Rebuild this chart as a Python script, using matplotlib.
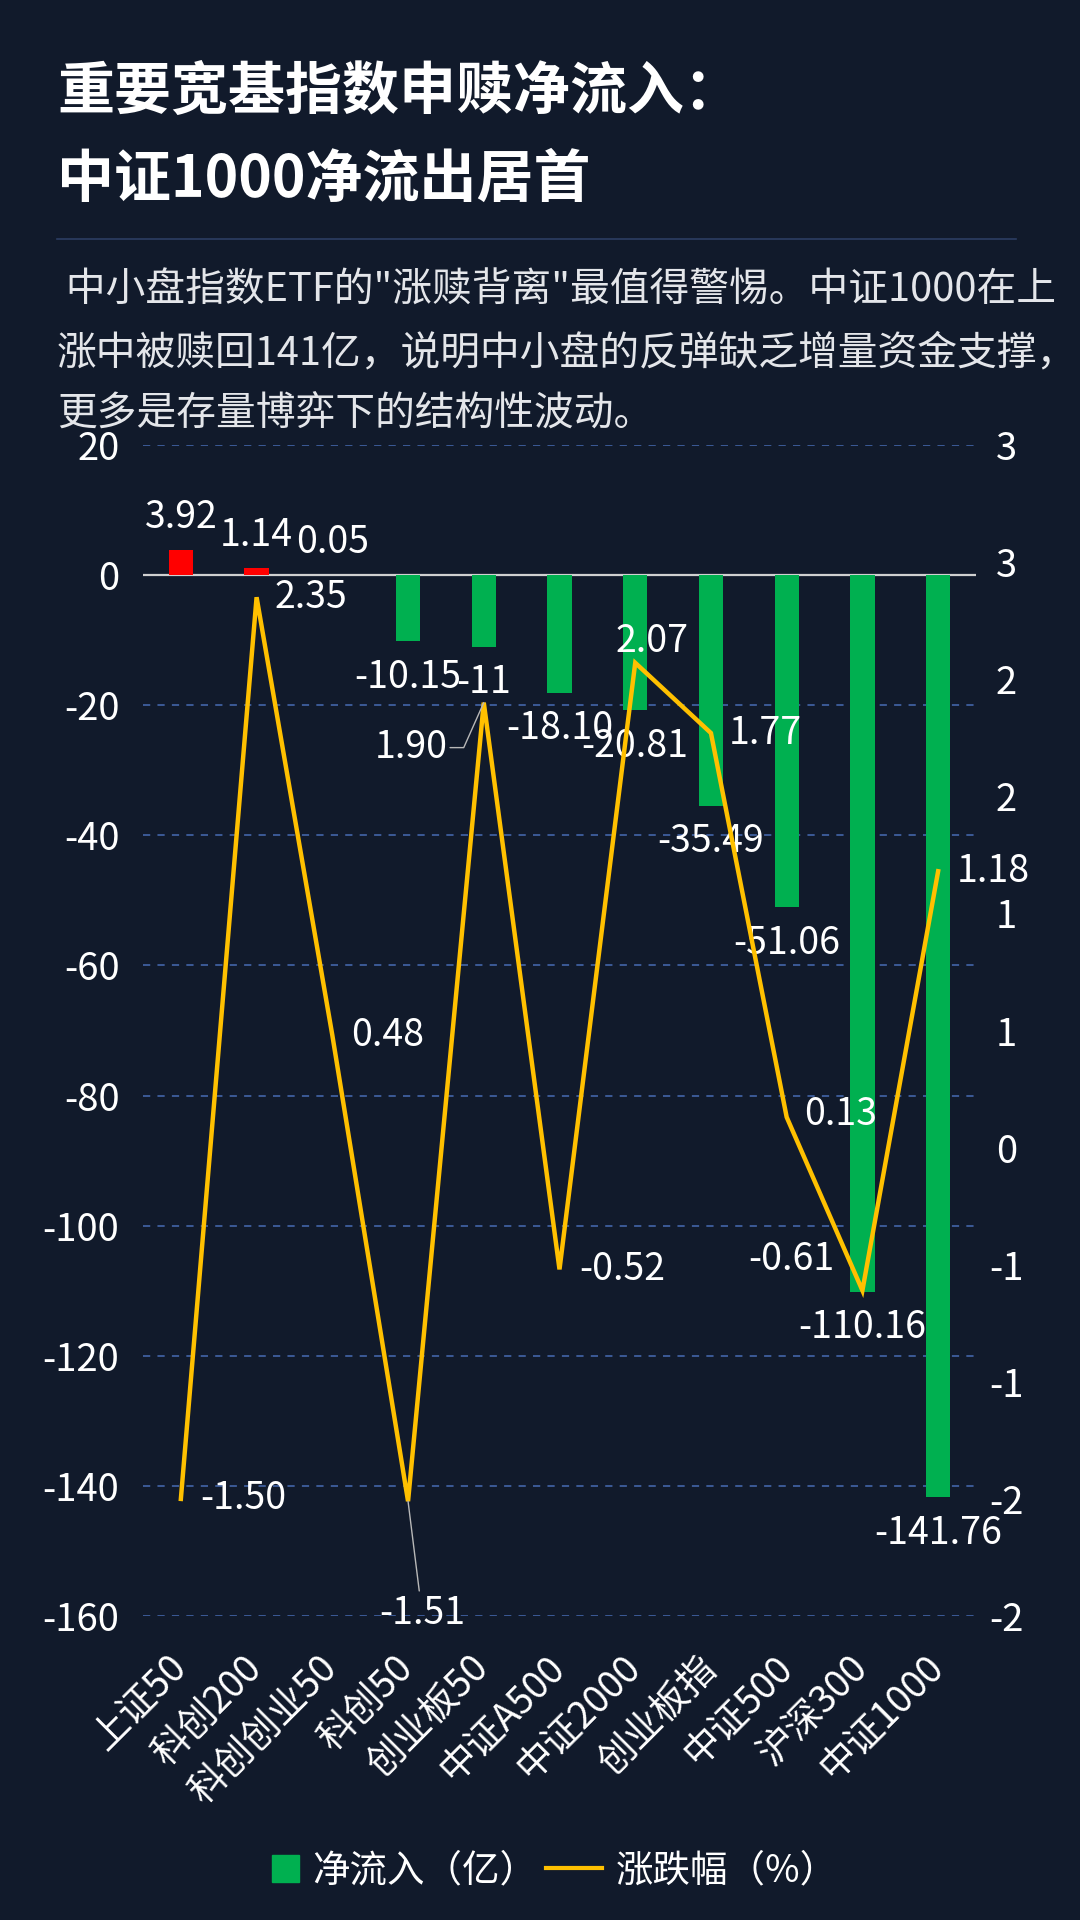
import numpy as np
import matplotlib
matplotlib.use("Agg")
import matplotlib.pyplot as plt
import matplotlib.patches as mpatches
from matplotlib.lines import Line2D
from matplotlib.legend_handler import HandlerPatch
from matplotlib.ticker import FuncFormatter
from matplotlib.transforms import ScaledTranslation

plt.rcParams['font.family'] = ['Noto Sans CJK SC', 'DejaVu Sans']
plt.rcParams['axes.unicode_minus'] = False

# ============================
# Data
# ============================
categories = ["上证50", "科创200", "科创创业50", "科创50", "创业板50", "中证A500",
              "中证2000", "创业板指", "中证500", "沪深300", "中证1000"]
net_flow = [3.92, 1.14, 0.05, -10.15, -11, -18.10, -20.81, -35.49, -51.06, -110.16, -141.76]
pct_change = [-1.50, 2.35, 0.48, -1.51, 1.90, -0.52, 2.07, 1.77, 0.13, -0.61, 1.18]

left_ticks = list(range(-160, 21, 20))
right_ticks = list(np.arange(-2, 3.01, 0.5))

title_lines = ["重要宽基指数申赎净流入：", "中证1000净流出居首"]
sub_lines = [' 中小盘指数ETF的"涨赎背离"最值得警惕。中证1000在上',
             "涨中被赎回141亿，说明中小盘的反弹缺乏增量资金支撑，",
             "更多是存量博弈下的结构性波动。"]
legend_labels = ["净流入（亿）", "涨跌幅（%）"]

# label placement for the % line (pixels, x right / y down)
pct_label_offsets = [(62, 0), (54, 0), (55, 0), (14, 112), (-73, 45), (63, 0),
                     (17, -21), (54, 0), (54, -3), (-71, -31), (55, 0)]

# ============================
# Style
# ============================
BG = "#111a2b"
RED = "#ff0000"
GREEN = "#00b050"
GOLD = "#ffc000"
GRID = "#3f5f9f"
W, H = 1080, 1920


def fmt_flow(v):
    return f"{int(v)}" if float(v).is_integer() else f"{v:.2f}"


def fmt_right(v, pos=None):
    return f"{int(np.sign(v) * np.floor(abs(v) + 0.5))}"


fig = plt.figure(figsize=(W / 100, H / 100), dpi=100, facecolor=BG)

# ---- header ----
for i, t in enumerate(title_lines):
    fig.text(57 / W, 1 - (92 + 88 * i) / H, t, color="white", fontsize=41,
             fontweight="bold", ha="left", va="center")
fig.add_artist(Line2D([57 / W, 1016 / W], [1 - 239 / H, 1 - 239 / H],
                      color="#2c3d63", lw=1.2))
for i, t in enumerate(sub_lines):
    fig.text(57 / W, 1 - (291 + 62 * i) / H, t, color="#e4e6ea", fontsize=28.6,
             ha="left", va="center")

# ---- chart ----
ax = fig.add_axes([143 / W, 1 - 1616 / H, (976 - 143) / W, (1616 - 445) / H])
ax.set_facecolor("none")
x = np.arange(len(categories))

colors = [RED if v > 0 else GREEN for v in net_flow]
ax.bar(x, net_flow, width=0.32, color=colors, zorder=2)
ax.set_xlim(-0.5, len(categories) - 0.5)
ax.set_ylim(-160, 20)
ax.set_yticks(left_ticks)
for t in left_ticks:
    if t == 0:
        ax.axhline(0, color="#d0d0d0", lw=1.6, zorder=1)
    else:
        ax.axhline(t, color=GRID, lw=1.3, ls=(0, (4, 4)), zorder=1)

for i, v in enumerate(net_flow):
    off = 32 if v > 0 else -36
    ax.annotate(fmt_flow(v), (i, v), xytext=(0, off), textcoords="offset pixels",
                ha="center", va="center", color="white", fontsize=27, zorder=5)

ax.set_xticks(x)
ax.set_xticklabels(categories, rotation=45, ha="right", va="center",
                   rotation_mode="anchor", color="white", fontsize=27)
for lbl in ax.get_xticklabels():
    lbl.set_transform(lbl.get_transform() + ScaledTranslation(0.10, 0, fig.dpi_scale_trans))
ax.tick_params(axis="x", length=0, pad=33)
ax.tick_params(axis="y", length=0, pad=17, labelcolor="white", labelsize=27.5)
for s in ax.spines.values():
    s.set_visible(False)

ax2 = ax.twinx()
ax2.plot(x, pct_change, color=GOLD, lw=3.2, zorder=4, solid_joinstyle="miter")
ax2.set_ylim(-2, 3)
ax2.set_yticks(right_ticks)
ax2.yaxis.set_major_formatter(FuncFormatter(fmt_right))
ax2.tick_params(axis="y", length=0, pad=22, labelcolor="white", labelsize=27.5)
for lbl in ax2.get_yticklabels():
    lbl.set_ha("center")
for s in ax2.spines.values():
    s.set_visible(False)

for i, v in enumerate(pct_change):
    dx, dy = pct_label_offsets[i]
    kw = {}
    if i == 3:
        kw["arrowprops"] = dict(arrowstyle="-", color="#b8b8b8", lw=1.0,
                                shrinkA=0, shrinkB=0)
    elif i == 4:
        kw["arrowprops"] = dict(arrowstyle="-", color="#b8b8b8", lw=1.0,
                                shrinkA=0, shrinkB=0, relpos=(1, 0.5),
                                connectionstyle="angle,angleA=0,angleB=66,rad=0")
    ax2.annotate(f"{v:.2f}", (i, v), xytext=(dx, -dy), textcoords="offset pixels",
                 ha="center", va="center", color="white", fontsize=27, zorder=6, **kw)


# ---- legend ----
def square_patch(legend, orig_handle, xdescent, ydescent, width, height, fontsize):
    s = height * 1.0
    return mpatches.Rectangle((width - xdescent - s, -ydescent), s, s)


handles = [mpatches.Patch(color=GREEN), Line2D([0], [0], color=GOLD, lw=3)]
leg = fig.legend(handles, legend_labels, loc="center", bbox_to_anchor=(0.5, 1 - 1871 / H),
                 ncol=2, frameon=False, fontsize=27, labelcolor="white",
                 handlelength=1.5, handletextpad=0.35, columnspacing=0.25,
                 handler_map={mpatches.Patch: HandlerPatch(patch_func=square_patch)})

fig.savefig("out.png", dpi=100, facecolor=BG)
print("[OK] Saved out.png")
